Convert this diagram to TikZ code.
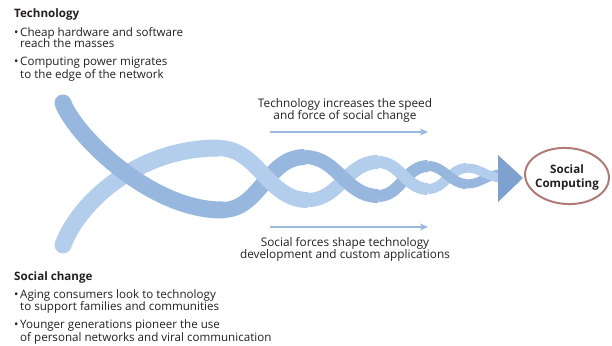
\documentclass[tikz,border=0pt]{standalone}
\usepackage{fontspec}
\setmainfont{Open Sans}
\usetikzlibrary{arrows.meta,shapes.geometric}
\definecolor{txt}{RGB}{35,31,32}
\definecolor{darkstrand}{RGB}{152,183,222}
\definecolor{lightstrand}{RGB}{179,205,236}
\definecolor{tipblue}{RGB}{127,161,207}
\definecolor{arrowblue}{RGB}{155,185,224}
\definecolor{rose}{RGB}{178,122,118}
\tikzset{
  line/.style={anchor=base west,inner sep=0pt,text=txt,font=\fontsize{11.6}{12}\selectfont},
  head/.style={line,font=\fontsize{11.6}{12}\selectfont\bfseries},
  midtext/.style={anchor=base,inner sep=0pt,text=txt,font=\fontsize{11.8}{12}\selectfont},
  dk/.style={draw=darkstrand,line cap=butt},
  lt/.style={draw=lightstrand,line cap=butt},
  flow/.style={draw=arrowblue,line width=1.6pt,-{Stealth[length=8pt,width=7pt,inset=2pt]}}
}
\newcommand{\bul}{\makebox[6pt][l]{•}}
\begin{document}
\begin{tikzpicture}[x=1pt,y=-1pt]
\useasboundingbox (0,0) rectangle (612,345);
% left text
\node[head] (th) at (14,18) {Technology};
\node[line] (t1a) at (14,37) {\bul Cheap hardware and software};
\node[line] (t1b) at (20,48) {reach the masses};
\node[line] (t2a) at (14,66) {\bul Computing power migrates};
\node[line] (t2b) at (20,78) {to the edge of the network};
\node[head] (sh) at (14,280) {Social change};
\node[line] (s1a) at (14,298) {\bul Aging consumers look to technology};
\node[line] (s1b) at (20,310) {to support families and communities};
\node[line] (s2a) at (14,328) {\bul Younger generations pioneer the use};
\node[line] (s2b) at (20,341) {of personal networks and viral communication};
% middle texts
\node[midtext] (ma) at (345,107) {Technology increases the speed};
\node[midtext] (mb) at (345,119) {and force of social change};
\node[midtext] (na) at (345,246) {Social forces shape technology};
\node[midtext] (nb) at (345,258) {development and custom applications};
\coordinate (a1s) at (270,132); \coordinate (a1e) at (428,132);
\coordinate (a2s) at (270,227); \coordinate (a2e) at (428,227);
\draw[flow] (a1s) -- (a1e);
\draw[flow] (a2s) -- (a2e);
% strands
\draw[lt,line width=17pt,line cap=round] (63,245) .. controls (80,200) and (140,148) .. (218,148);
\draw[dk,line width=17pt,line cap=round] (63,103) .. controls (75,135) and (150,210) .. (222,210);
\draw[dk,line width=16pt] (222,210) to[out=0,in=180] (305,157);
\draw[lt,line width=16pt] (218,148) to[out=0,in=180] (308,200);
\draw[lt,line width=14pt] (308,200) to[out=0,in=180] (378,162);
\draw[dk,line width=14pt] (305,157) to[out=0,in=180] (378,196);
\draw[dk,line width=12pt] (378,196) to[out=0,in=180] (428,166);
\draw[lt,line width=12pt] (378,162) to[out=0,in=180] (428,189);
\draw[lt,line width=10pt] (428,189) to[out=0,in=180] (467,168);
\draw[dk,line width=10pt] (428,166) to[out=0,in=180] (467,184);
\draw[dk,line width=9pt] (467,184) to[out=0,in=180] (502,174);
\draw[lt,line width=9pt] (467,168) to[out=0,in=180] (502,178);
% arrow head
\fill[tipblue] (498,155) -- (523,178) -- (498,202) -- cycle;
% social computing
\node[draw=rose,line width=2pt,ellipse,minimum width=84pt,minimum height=56pt,inner sep=0pt,rotate=-4] (sc) at (567,176) {};
\node[align=center,inner sep=0pt,text=txt,font=\fontsize{11.6}{14}\selectfont\bfseries] (sct) at (567,177) {Social\\Computing};
\end{tikzpicture}
\end{document}
